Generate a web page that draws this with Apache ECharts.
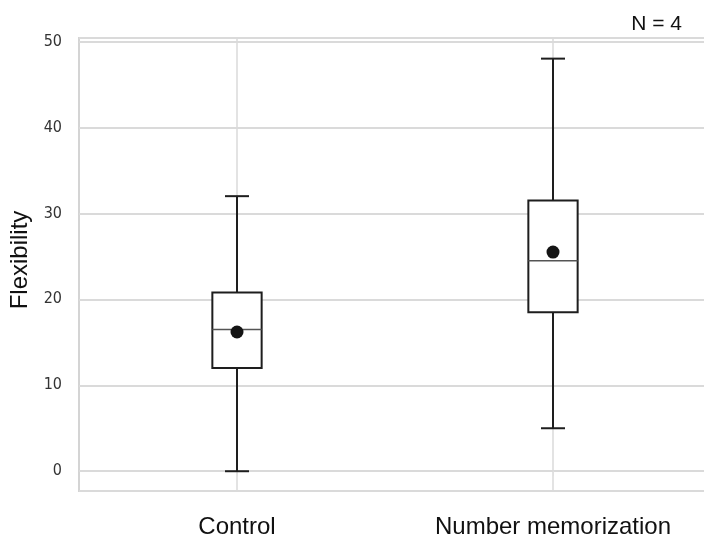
<!DOCTYPE html>
<html>
<head>
<meta charset="utf-8">
<script src="https://cdn.jsdelivr.net/npm/echarts@6/dist/echarts.min.js"></script>
<style>
  html, body { margin: 0; padding: 0; background: #fff; }
  #chart { width: 704px; height: 542px; }
</style>
</head>
<body>
<div id="chart"></div>
<script>
// 数据
const categories = ['Control', 'Number memorization']
const whiskerLow = [0, 5]
const q1 = [12, 18.5]
const median = [16.5, 24.5]
const q3 = [20.8, 31.5]
const whiskerHigh = [32, 48]
const means = [16.2, 25.5]

const boxData = categories.map((c, i) => [i, whiskerLow[i], q1[i], median[i], q3[i], whiskerHigh[i]])
const meanData = categories.map((c, i) => [i, means[i]])

function renderBox(params, api) {
  const x = api.value(0)
  const pLow = api.coord([x, api.value(1)])
  const pQ1 = api.coord([x, api.value(2)])
  const pMed = api.coord([x, api.value(3)])
  const pQ3 = api.coord([x, api.value(4)])
  const pHigh = api.coord([x, api.value(5)])
  const band = api.size([1, 0])[0]
  const hw = band * 0.078 // 箱子半宽
  const cw = band * 0.038 // 须线端点半宽
  const cx = pMed[0]
  const stroke = { stroke: '#1e1e1e', lineWidth: 2, fill: null }
  return {
    type: 'group',
    children: [
      { type: 'line', shape: { x1: cx, y1: pQ3[1], x2: cx, y2: pHigh[1] }, style: stroke },
      { type: 'line', shape: { x1: cx, y1: pQ1[1], x2: cx, y2: pLow[1] }, style: stroke },
      { type: 'line', shape: { x1: cx - cw, y1: pHigh[1], x2: cx + cw, y2: pHigh[1] }, style: stroke },
      { type: 'line', shape: { x1: cx - cw, y1: pLow[1], x2: cx + cw, y2: pLow[1] }, style: stroke },
      { type: 'rect', shape: { x: cx - hw, y: pQ3[1], width: hw * 2, height: pQ1[1] - pQ3[1] }, style: { stroke: '#1e1e1e', lineWidth: 2, fill: '#fff' } },
      { type: 'line', shape: { x1: cx - hw, y1: pMed[1], x2: cx + hw, y2: pMed[1] }, style: { stroke: '#555', lineWidth: 1.5 } }
    ]
  }
}

const chart = echarts.init(document.getElementById('chart'))
const option = {
  animation: false,
  title: {
    text: 'N = 4',
    right: 17,
    top: 9,
    textStyle: { fontFamily: 'Liberation Sans', fontSize: 21, fontWeight: 'normal', color: '#111' }
  },
  grid: {
    left: 79,
    top: 38,
    width: 632,
    height: 453,
    outerBoundsMode: 'none',
    containLabel: false,
    show: true,
    borderColor: '#d4d4d4',
    borderWidth: 2
  },
  xAxis: {
    type: 'category',
    data: categories,
    boundaryGap: true,
    axisLine: { show: false },
    axisTick: { show: true, alignWithLabel: true, length: 5, lineStyle: { color: '#e0e0e0' } },
    axisLabel: { margin: 24, fontFamily: 'Liberation Sans', fontSize: 24, color: '#111' },
    splitLine: { show: true, alignWithLabel: true, lineStyle: { color: '#dadada', width: 1.5 } }
  },
  yAxis: {
    type: 'value',
    min: -2.3,
    max: 50.4,
    splitNumber: 5,
    name: 'Flexibility',
    nameLocation: 'middle',
    nameGap: 47,
    nameTextStyle: { fontFamily: 'Liberation Sans', fontSize: 24, color: '#111', padding: [0, 0, 0, 9] },
    axisLine: { show: false },
    axisTick: { show: false },
    axisLabel: {
      margin: 17,
      showMinLabel: false,
      showMaxLabel: false,
      fontFamily: 'DejaVu Sans Condensed',
      fontSize: 16,
      color: '#333'
    },
    splitLine: { show: true, lineStyle: { color: '#dadada', width: 2 } }
  },
  series: [
    {
      type: 'custom',
      renderItem: renderBox,
      data: boxData,
      encode: { x: 0, y: [1, 2, 3, 4, 5] },
      z: 3
    },
    {
      type: 'scatter',
      data: meanData,
      symbolSize: 13,
      itemStyle: { color: '#141414', opacity: 1 },
      z: 4
    }
  ]
}
chart.setOption(option)
</script>
</body>
</html>
